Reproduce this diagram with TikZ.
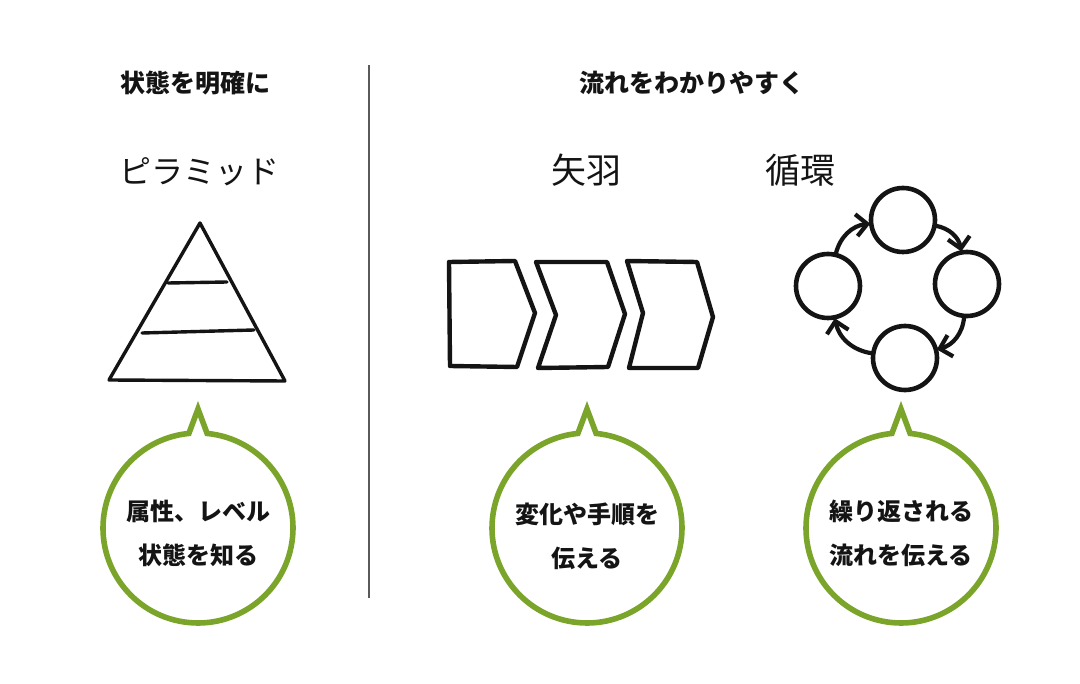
\documentclass[tikz,border=0pt]{standalone}
\usepackage{fontspec}
\newfontfamily\jp{Noto Sans CJK JP}
\usetikzlibrary{arrows.meta,calc}
\definecolor{bubblegreen}{HTML}{7AA52A}
\definecolor{ink}{HTML}{141414}
\definecolor{divider}{HTML}{5A5A5A}
\tikzset{
  header/.style={font=\jp\bfseries\fontsize{25}{30}\selectfont, text=ink, inner sep=0pt},
  title/.style={font=\jp\fontsize{32}{38}\selectfont, text=ink, inner sep=0pt},
  bubbletext/.style={font=\jp\bfseries\fontsize{24}{44}\selectfont, text=ink, align=center, inner sep=0pt},
  sketch/.style={draw=ink, line width=4.4pt, line join=round, line cap=round},
  pyr/.style={draw=ink, line width=3.4pt, line join=round, line cap=round},
  ring/.style={draw=ink, circle, line width=4.6pt, minimum size=64pt, inner sep=0pt, outer sep=1pt},
  cyc/.style={draw=ink, line width=4.2pt, line cap=round, -{Straight Barb[length=11pt,width=22pt,line width=4.2pt]}},
  bubble/.style={draw=bubblegreen, line width=5.6pt, line join=miter},
}
\begin{document}
\begin{tikzpicture}[x=1pt,y=-1pt]
\useasboundingbox (0,0) rectangle (1080,684);
\fill[white] (0,0) rectangle (1080,684);

% headers
\node[header] (h1) at (195,83) {状態を明確に};
\node[header] (h2) at (692,83) {流れをわかりやすく};
\coordinate (dtop) at (369,65);
\coordinate (dbot) at (369,598);
\draw[divider, line width=1.4pt] (dtop) -- (dbot);

% titles
\node[title] (t1) at (199,172) {ピラミッド};
\node[title, font=\jp\fontsize{35}{40}\selectfont] (t2) at (586,170) {矢羽};
\node[title, font=\jp\fontsize{35}{40}\selectfont] (t3) at (800,170) {循環};

% pyramid
\coordinate (pa) at (200,223);
\coordinate (pl) at (109,380);
\coordinate (pr) at (285,381);
\draw[pyr] (pa) -- (pl) -- (pr) -- cycle;
\draw[pyr] (168,283) -- (227,282);
\draw[pyr] (142,333) -- (254,330);

% chevrons
\draw[sketch] (449,262) -- (515,261) -- (535,313) -- (517,367) -- (450,366) -- cycle;
\draw[sketch] (536,262) -- (607,262) -- (625,314) -- (608,367) -- (538,368) -- (556,315) -- cycle;
\draw[sketch] (627,261) -- (697,262) -- (713,317) -- (698,368) -- (629,368) -- (643,313) -- cycle;

% cycle
\node[ring] (c1) at (903,220) {};
\node[ring] (c2) at (967,284) {};
\node[ring] (c3) at (905,358) {};
\node[ring] (c4) at (828,286) {};
\draw[cyc] (c1) to[bend left=35] (c2);
\draw[cyc] (c2) to[bend left=35] (c3);
\draw[cyc] (c3) to[bend left=35] (c4);
\draw[cyc] (c4) to[bend left=35] (c1);

% bubbles
\foreach \cx/\nm in {198/b1, 587/b2, 901/b3}{
  \coordinate (\nm) at (\cx,528);
  \coordinate (\nm tip) at (\cx,409);
  \draw[bubble] ($(\nm)+(-84.5:95)$) arc[start angle=-84.5, end angle=264.5, radius=95] -- (\nm tip) -- cycle;
}
\node[bubbletext] (l1) at (198,533) {属性、レベル\\状態を知る};
\node[bubbletext] (l2) at (587,536) {変化や手順を\\伝える};
\node[bubbletext] (l3) at (901,533) {繰り返される\\流れを伝える};
\end{tikzpicture}
\end{document}
